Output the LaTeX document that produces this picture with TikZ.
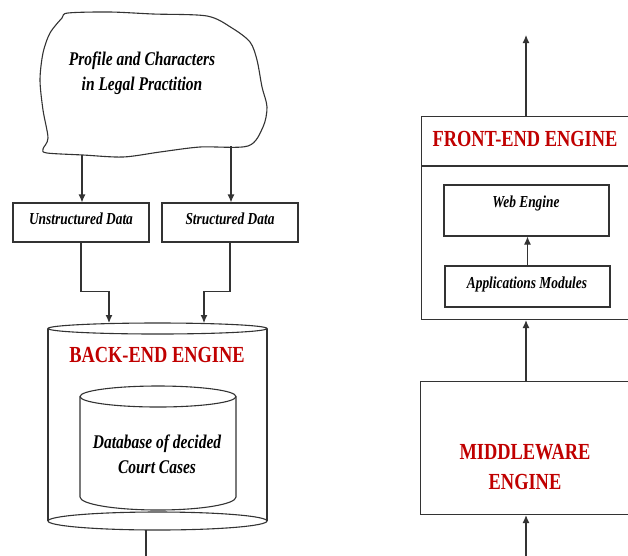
\documentclass[tikz,border=0pt]{standalone}
\usepackage{fontspec}
\setmainfont{Liberation Serif}
\usetikzlibrary{arrows.meta}
\newcommand\vst[1]{\scalebox{1}[1.25]{#1}}
\definecolor{engred}{HTML}{C00000}
\definecolor{linegray}{HTML}{333333}
\tikzset{
  conn/.style={draw=linegray, line width=1.1pt, -{Latex[length=8pt,width=7pt]}},
  plainline/.style={draw=linegray, line width=1.1pt},
  databox/.style={draw=linegray, line width=1.1pt, rectangle, inner sep=0pt},
  itxt/.style={font=\fontsize{13.4}{16}\selectfont\bfseries\itshape, inner sep=0pt, align=center},
  btxt/.style={font=\fontsize{15.5}{19}\selectfont\bfseries\itshape, inner sep=0pt, align=center},
  rtxt/.style={font=\fontsize{18.4}{22}\selectfont\bfseries, text=engred, inner sep=0pt, align=center},
}
\begin{document}
\begin{tikzpicture}[x=1pt,y=-1pt]
\useasboundingbox (0,0) rectangle (628,555);
\begin{scope}
\clip (0,0) rectangle (628,555);

% cloud
\draw[plainline] plot[smooth cycle, tension=0.5] coordinates {
 (68,13) (110,12) (153,14) (207,16) (232,28) (250,42) (257,60) (262,87)
 (267,107) (263,127) (248,146) (200,147) (160,152) (123,157) (83,155)
 (47,153) (43,149) (48,138) (43,110) (40,80) (43,53) (50,33) (62,18)};
\node[btxt] (cloudtxt) at (142,73) {\vst{\begin{tabular}{@{}c@{}}Profile and Characters\\[1pt] in Legal Practition\end{tabular}}};
\coordinate (cl1) at (82,155);
\coordinate (cl2) at (231,146);

% data boxes
\node[databox, minimum width=136, minimum height=39] (unst) at (81,222.5) {};
\node[itxt] (unsttxt) at (81,219) {\vst{Unstructured Data}};
\node[databox, minimum width=136, minimum height=39] (str) at (230,222.5) {};
\node[itxt] (strtxt) at (230,219) {\vst{Structured Data}};

\draw[conn] (cl1) -- (cl1 |- unst.north);
\draw[conn] (cl2) -- (cl2 |- str.north);

% back-end cylinder
\coordinate (bt1) at (109,323);
\coordinate (bt2) at (204,323);
\draw[plainline] (157.5,328.5) ellipse [x radius=109.5, y radius=5.5];
\draw[plainline] (48,328.5) -- (48,521);
\draw[plainline] (267,328.5) -- (267,521);
\draw[plainline] (157.5,521) ellipse [x radius=109.5, y radius=9];
\node[rtxt] (backtxt) at (157,355) {\vst{BACK-END ENGINE}};

% inner database cylinder
\draw[plainline] (158,396.5) ellipse [x radius=78, y radius=10.5];
\draw[plainline] (80,396.5) -- (80,497) arc[start angle=180, end angle=360, x radius=78, y radius=-13] -- (236,396.5);
\node[btxt] (dbtxt) at (157,456) {\vst{\begin{tabular}{@{}c@{}}Database of decided\\[1pt] Court Cases\end{tabular}}};

\draw[conn] (unst.south) -- ++(0,49) -| (bt1);
\draw[conn] (str.south) -- ++(0,49) -| (bt2);

\coordinate (bb1) at (146,530);
\coordinate (bb2) at (146,560);
\draw[plainline] (bb1) -- (bb2);

% front-end engine
\node[databox, anchor=north west, minimum width=225, minimum height=203] (front) at (421,116) {};
\draw[plainline] (front.west |- 0,166) -- (front.east |- 0,166);
\node[rtxt] (fronttxt) at (525,139) {\vst{FRONT-END ENGINE}};
\coordinate (ftop) at (526,116);
\coordinate (fout) at (526,35);
\draw[conn] (ftop) -- (fout);

\node[databox, minimum width=165, minimum height=51] (web) at (526.5,210.5) {};
\node[itxt] (webtxt) at (526,203) {\vst{Web Engine}};
\node[databox, minimum width=165, minimum height=41] (app) at (527.5,286.5) {};
\node[itxt] (apptxt) at (527,284) {\vst{Applications Modules}};
\draw[conn] (app.north) -- (app.north |- web.south);

% middleware
\node[databox, anchor=north west, minimum width=225, minimum height=133] (mid) at (420,381) {};
\node[rtxt] (midtxt) at (525,469) {\vst{\begin{tabular}{@{}c@{}}MIDDLEWARE\\[2pt] ENGINE\end{tabular}}};
\coordinate (mtop) at (526,381);
\draw[conn] (mtop) -- (mtop |- front.south);
\coordinate (min) at (526,560);
\draw[conn] (min) -- (min |- mid.south);
\end{scope}
\end{tikzpicture}
\end{document}
